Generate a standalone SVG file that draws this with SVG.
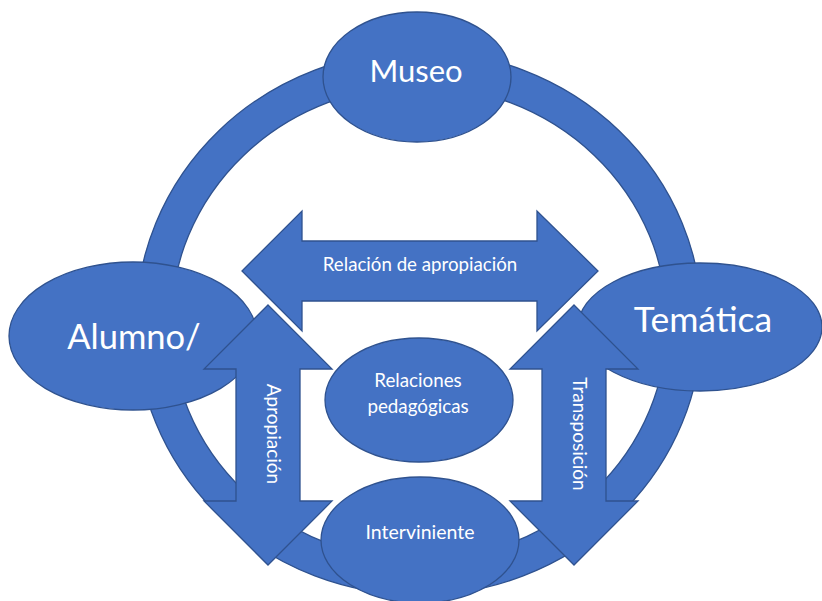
<svg xmlns="http://www.w3.org/2000/svg" width="822" height="601" viewBox="0 0 822 601">
<style>
.shape{fill:#4472C4;stroke:#2F528F;stroke-width:1.3}
.t{fill:#FFFFFF;font-family:Lato,"Liberation Sans",sans-serif;text-anchor:middle}
</style>
<rect width="822" height="601" fill="#FFFFFF"/>
<g id="ring">
<path class="shape" fill-rule="evenodd" d="M136,323 A283,272 0 1,0 702,323 A283,272 0 1,0 136,323 Z M171,323 A248,237 0 1,0 667,323 A248,237 0 1,0 171,323 Z"/>
</g>
<g id="museo">
<ellipse class="shape" cx="417" cy="77" rx="94" ry="65"/>
<text class="t" x="416" y="82" font-size="31">Museo</text>
</g>
<g id="alumno">
<ellipse class="shape" cx="133" cy="336" rx="124" ry="74"/>
<text class="t" x="134" y="349" font-size="34.5">Alumno/</text>
</g>
<g id="tematica">
<ellipse class="shape" cx="700" cy="327" rx="122" ry="64"/>
<text class="t" x="703" y="332" font-size="35.5">Temática</text>
</g>
<g id="connectors">
<g id="relacion-apropiacion">
<path class="shape" d="M242,271 L302,211 L302,241 L537,241 L537,211 L598,271 L537,331 L537,301 L302,301 L302,331 Z"/>
<text class="t" x="420" y="271" font-size="18.7">Relación de apropiación</text>
</g>
<g id="apropiacion">
<path class="shape" d="M268,305 L332,369 L300,369 L300,501 L332,501 L268,565 L204,501 L236,501 L236,369 L204,369 Z"/>
<text class="t" transform="translate(267,434) rotate(90)" x="0" y="0" font-size="19">Apropiación</text>
</g>
<g id="transposicion">
<path class="shape" d="M574,305 L638,369 L606,369 L606,501 L638,501 L574,565 L510,501 L542,501 L542,369 L510,369 Z"/>
<text class="t" transform="translate(573,434) rotate(90)" x="0" y="0" font-size="19">Transposición</text>
</g>
</g>
<g id="relaciones">
<ellipse class="shape" cx="419" cy="400" rx="94" ry="62"/>
<text class="t" x="418" y="387" font-size="18.8">Relaciones</text>
<text class="t" x="418" y="413" font-size="18.8">pedagógicas</text>
</g>
<g id="interviniente">
<ellipse class="shape" cx="420" cy="540" rx="99" ry="63"/>
<text class="t" x="420" y="539" font-size="19.5">Interviniente</text>
</g>
</svg>
